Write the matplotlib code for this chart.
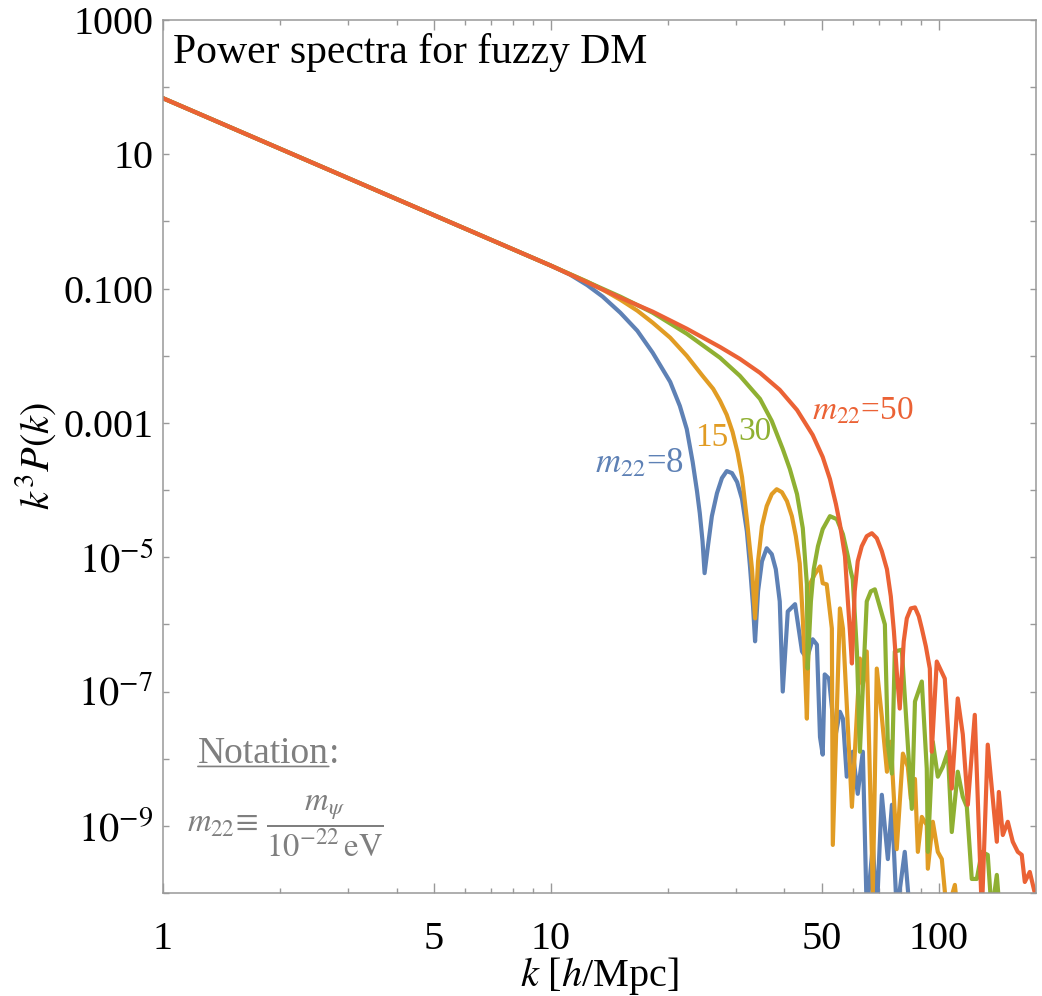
import matplotlib
matplotlib.use("Agg")
import matplotlib.pyplot as plt
from matplotlib.ticker import FixedLocator, FixedFormatter, NullFormatter

plt.rcParams["font.family"] = ["Liberation Serif", "DejaVu Serif"]
plt.rcParams["mathtext.fontset"] = "stix"

# k [h/Mpc] and k^3 P(k), one pair of lists per mass
k8 = [1, 10, 11.2, 12.4, 13.6, 15.1, 16.7, 18.3, 20.3, 21.5, 22.4, 23.2, 23.8, 24.2, 24.6,
      24.9, 25.4, 26.0, 26.8, 27.6, 28.4, 29.3, 30.2, 31.1, 32.0, 32.6, 33.2, 33.6, 34.2,
      35.0, 36.0, 37.1, 38.0, 38.9, 39.6, 40.8, 42.6, 44.4, 45.7, 47.3, 48.5, 49.4, 50.2,
      50.8, 52.1, 54.0, 55.6, 56.6, 57.9, 60.0, 61.8, 63.7, 65.2, 67.6, 69.2, 71.3, 73.9,
      75.7, 77.9, 81.7, 84.2]
p8 = [68.5, 0.22, 0.162, 0.113, 0.076, 0.0438, 0.0236, 0.0111, 4.09e-3, 1.79e-3, 8.1e-4,
      2.62e-4, 9.7e-5, 4.54e-5, 1.73e-5, 5.8e-6, 1.46e-5, 4.09e-5, 9.0e-5, 1.51e-4, 1.92e-4,
      1.79e-4, 1.32e-4, 7.34e-5, 2.44e-5, 7.34e-6, 1.86e-6, 5.6e-7, 3.11e-6, 8.7e-6, 1.36e-5,
      1.11e-5, 6.62e-6, 2.2e-6, 1.0e-7, 1.56e-6, 2.0e-6, 3.95e-7, 3.1e-7, 6.0e-7, 5.0e-7,
      2.1e-8, 1.15e-8, 1.8e-7, 1.56e-7, 2.0e-8, 5.0e-8, 3.95e-8, 5.4e-9, 1.27e-8, 3.0e-9,
      1.27e-8, 5e-11, 5.2e-10, 5e-11, 2.9e-9, 3.2e-10, 2.06e-9, 5e-11, 4.1e-10, 5e-11]

k15 = [1, 10, 12.4, 13.6, 15.1, 16.7, 18.3, 20.3, 22.4, 24.6, 26.2, 27.3, 28.4, 29.4, 30.3,
       31.1, 32.0, 33.0, 33.6, 34.2, 35.0, 36.0, 37.1, 38.2, 39.4, 40.6, 41.8, 42.8, 43.8,
       44.6, 45.1, 45.7, 46.5, 47.9, 49.4, 50.2, 51.4, 53.0, 53.3, 55.6, 56.6, 59.7, 62.6,
       63.7, 65.2, 67.6, 69.2, 71.3, 73.5, 75.2, 77.9, 80.8, 83.2, 84.7, 86.8, 88.3, 90.4,
       93.1, 93.7, 96.5, 99.4, 101.8, 104.9, 110.0, 111.9]
p15 = [68.5, 0.22, 0.127, 0.0966, 0.0685, 0.047, 0.0311, 0.0186, 0.0100, 5.03e-3, 3.22e-3,
       2.13e-3, 1.32e-3, 7.34e-4, 3.57e-4, 1.56e-4, 3.69e-5, 6.62e-6, 1.23e-6, 8.7e-6, 2.9e-5,
       5.77e-5, 8.7e-5, 1.03e-4, 9.3e-5, 6.85e-5, 4.09e-5, 2.06e-5, 8.1e-6, 1.23e-6, 2.8e-7,
       3.95e-8, 3.95e-6, 5.6e-6, 7.3e-6, 4.1e-6, 3.95e-6, 8.7e-7, 5.2e-10, 1.73e-6, 8.7e-7,
       1.92e-9, 3.1e-7, 1.27e-7, 3.95e-7, 1.03e-10, 2.2e-7, 4.2e-8, 6.4e-9, 1.79e-8, 4.5e-10,
       1.19e-8, 7.6e-9, 2.53e-9, 5.0e-9, 4.1e-10, 1.36e-9, 1.03e-9, 2.3e-10, 1.15e-9, 4.1e-10,
       3.2e-10, 5e-11, 1.32e-10, 5e-11]

k30 = [1, 10, 15.1, 18.3, 22.4, 27.3, 30.7, 34.6, 37.1, 39.6, 41.3, 43.1, 44.6, 45.7, 45.9,
       46.8, 47.6, 48.8, 50.2, 52.4, 54.6, 56.6, 58.3, 59.3, 60.0, 61.5, 62.6, 65.2, 66.8,
       68.4, 72.6, 73.9, 75.7, 77.0, 80.3, 83.2, 85.2, 86.8, 90.4, 93.1, 93.7, 96.5, 99.4,
       102.4, 105.5, 108.0, 111.9, 115.3, 118.1, 121.6, 125.3, 129.1, 133.7, 136.9, 141.1,
       143.6]
p30 = [68.5, 0.22, 0.076, 0.0438, 0.0213, 9.33e-3, 5.03e-3, 2.28e-3, 1.07e-3, 4.09e-4, 2.06e-4,
       8.7e-5, 2.71e-5, 3.95e-6, 2.2e-7, 2.2e-6, 6.62e-6, 1.46e-5, 2.62e-5, 4.09e-5, 3.69e-5,
       2.2e-5, 1.03e-5, 6.18e-6, 4.7e-6, 3.95e-7, 1.27e-8, 2.2e-6, 3.11e-6, 3.33e-6, 1.0e-6,
       1.62e-8, 6.0e-9, 3.95e-7, 4.2e-7, 1.62e-8, 1.79e-9, 7.1e-8, 1.41e-7, 7.1e-9, 4.1e-10,
       1.79e-8, 5.4e-9, 7.6e-9, 1.27e-8, 8.1e-10, 6.4e-9, 2.7e-9, 1.92e-9, 1.62e-10, 1.62e-10,
       4.1e-10, 3.7e-10, 5e-11, 1.86e-10, 5e-11]

k50 = [1, 10, 15.1, 18.3, 22.4, 27.3, 30.7, 34.6, 38.9, 43.1, 47.3, 50.2, 52.4, 54.3, 55.6,
       57.3, 57.9, 59.0, 59.7, 60.7, 61.8, 63.3, 65.2, 67.2, 69.2, 71.3, 73.5, 75.2, 76.6,
       77.9, 79.3, 81.2, 82.7, 84.7, 86.8, 88.8, 90.4, 92.6, 94.8, 95.9, 98.8, 103.6, 108.0,
       111.9, 115.3, 118.8, 123.8, 129.1, 133.7, 141.1, 142.8, 146.2, 150.6, 155.1, 159.8,
       163.6, 166.6, 171.6, 176.8, 180]
p50 = [68.5, 0.22, 0.0734, 0.0454, 0.0253, 0.0135, 9.0e-3, 5.57e-3, 3.11e-3, 1.56e-3, 6.62e-4,
       3.11e-4, 1.46e-4, 6.18e-5, 3.11e-5, 1.03e-5, 3.95e-6, 7.86e-7, 2.62e-7, 3.11e-6, 8.7e-6,
       1.46e-5, 2.06e-5, 2.28e-5, 1.92e-5, 1.23e-5, 6.62e-6, 2.62e-6, 7.86e-7, 1.99e-7, 5.58e-8,
       5.58e-7, 1.23e-6, 1.73e-6, 1.79e-6, 1.32e-6, 8.7e-7, 4.7e-7, 2.2e-7, 1.27e-8, 2.8e-7,
       1.56e-7, 3.6e-9, 7.9e-8, 2.3e-8, 2.06e-9, 4.5e-8, 5e-11, 1.62e-8, 5.8e-10, 3.2e-9,
       7.3e-10, 1.15e-9, 5.8e-10, 4.1e-10, 3.7e-10, 1.46e-10, 2.06e-10, 1.0e-10, 6e-11]

colors = ["#5E81B5", "#E19C24", "#8FB032", "#EB6235"]
gray = "#7f7f7f"

x_major = [1, 5, 10, 50, 100]
x_minor = [2, 3, 4, 6, 7, 8, 9, 20, 30, 40, 60, 70, 80, 90]
y_major = [1e3, 1e1, 1e-1, 1e-3, 1e-5, 1e-7, 1e-9]
y_labels = ["1000", "10", "0.100", "0.001", r"$10^{-5}$", r"$10^{-7}$", r"$10^{-9}$"]
y_minor = [1e2, 1e0, 1e-2, 1e-4, 1e-6, 1e-8, 1e-10]

fig = plt.figure(figsize=(10.42, 9.96), dpi=100)
ax = fig.add_axes([0.1564, 0.1034, 0.8378, 0.8765])

for k, p, c in zip([k8, k15, k30, k50], [p8, p15, p30, p50], colors):
    ax.plot(k, p, color=c, lw=3.0, solid_joinstyle="round")

ax.set_xscale("log")
ax.set_yscale("log")
ax.set_xlim(1, 178)
ax.set_ylim(1e-10, 1e3)

ax.xaxis.set_major_locator(FixedLocator(x_major))
ax.xaxis.set_major_formatter(FixedFormatter([str(v) for v in x_major]))
ax.xaxis.set_minor_locator(FixedLocator(x_minor))
ax.xaxis.set_minor_formatter(NullFormatter())
ax.yaxis.set_major_locator(FixedLocator(y_major))
ax.yaxis.set_major_formatter(FixedFormatter(y_labels))
ax.yaxis.set_minor_locator(FixedLocator(y_minor))
ax.yaxis.set_minor_formatter(NullFormatter())

ax.tick_params(which="both", direction="in", top=True, right=True, color="#999999",
               width=1.0, labelsize=29)
ax.tick_params(axis="x", which="major", length=7, pad=20)
ax.tick_params(axis="x", which="minor", length=3.5)
ax.tick_params(axis="y", which="both", length=4, pad=7)
for s in ax.spines.values():
    s.set_color("#999999")
    s.set_linewidth(1.1)

ax.set_xlabel(r"$k$ [$h$/Mpc]", fontsize=29, labelpad=-2)
ax.set_ylabel(r"$k^3P(k)$", fontsize=29, labelpad=4)

ax.text(0.011, 0.985, "Power spectra for fuzzy DM", transform=ax.transAxes,
        fontsize=30, va="top", ha="left")

ax.text(22.0, 2.5e-4, r"$m_{22}$=8", color=colors[0], fontsize=25, ha="right", va="center")
ax.text(26.0, 6.0e-4, "15", color=colors[1], fontsize=24, ha="center", va="center")
ax.text(33.6, 7.3e-4, "30", color=colors[2], fontsize=24, ha="center", va="center")
ax.text(47.1, 1.5e-3, r"$m_{22}$=50", color=colors[3], fontsize=24, ha="left", va="center")

# notation box
t = ax.text(0.04, 0.16, "Notation", transform=ax.transAxes, fontsize=27, color=gray,
            ha="left", va="center")
ax.annotate("", xy=(0, 0.12), xycoords=t, xytext=(1, 0.12), textcoords=t,
            arrowprops=dict(arrowstyle="-", color=gray, lw=1.2, shrinkA=0, shrinkB=0))
ax.annotate(":", xy=(1, 0), xycoords=t, fontsize=27, color=gray, ha="left", va="bottom")
ax.text(0.028, 0.077, r"$m_{22}\!\equiv\,\dfrac{m_\psi}{10^{-22}\,\mathrm{eV}}$",
        transform=ax.transAxes, fontsize=23.5, color=gray, ha="left", va="center")

fig.savefig("out.png", dpi=100, facecolor="white")
